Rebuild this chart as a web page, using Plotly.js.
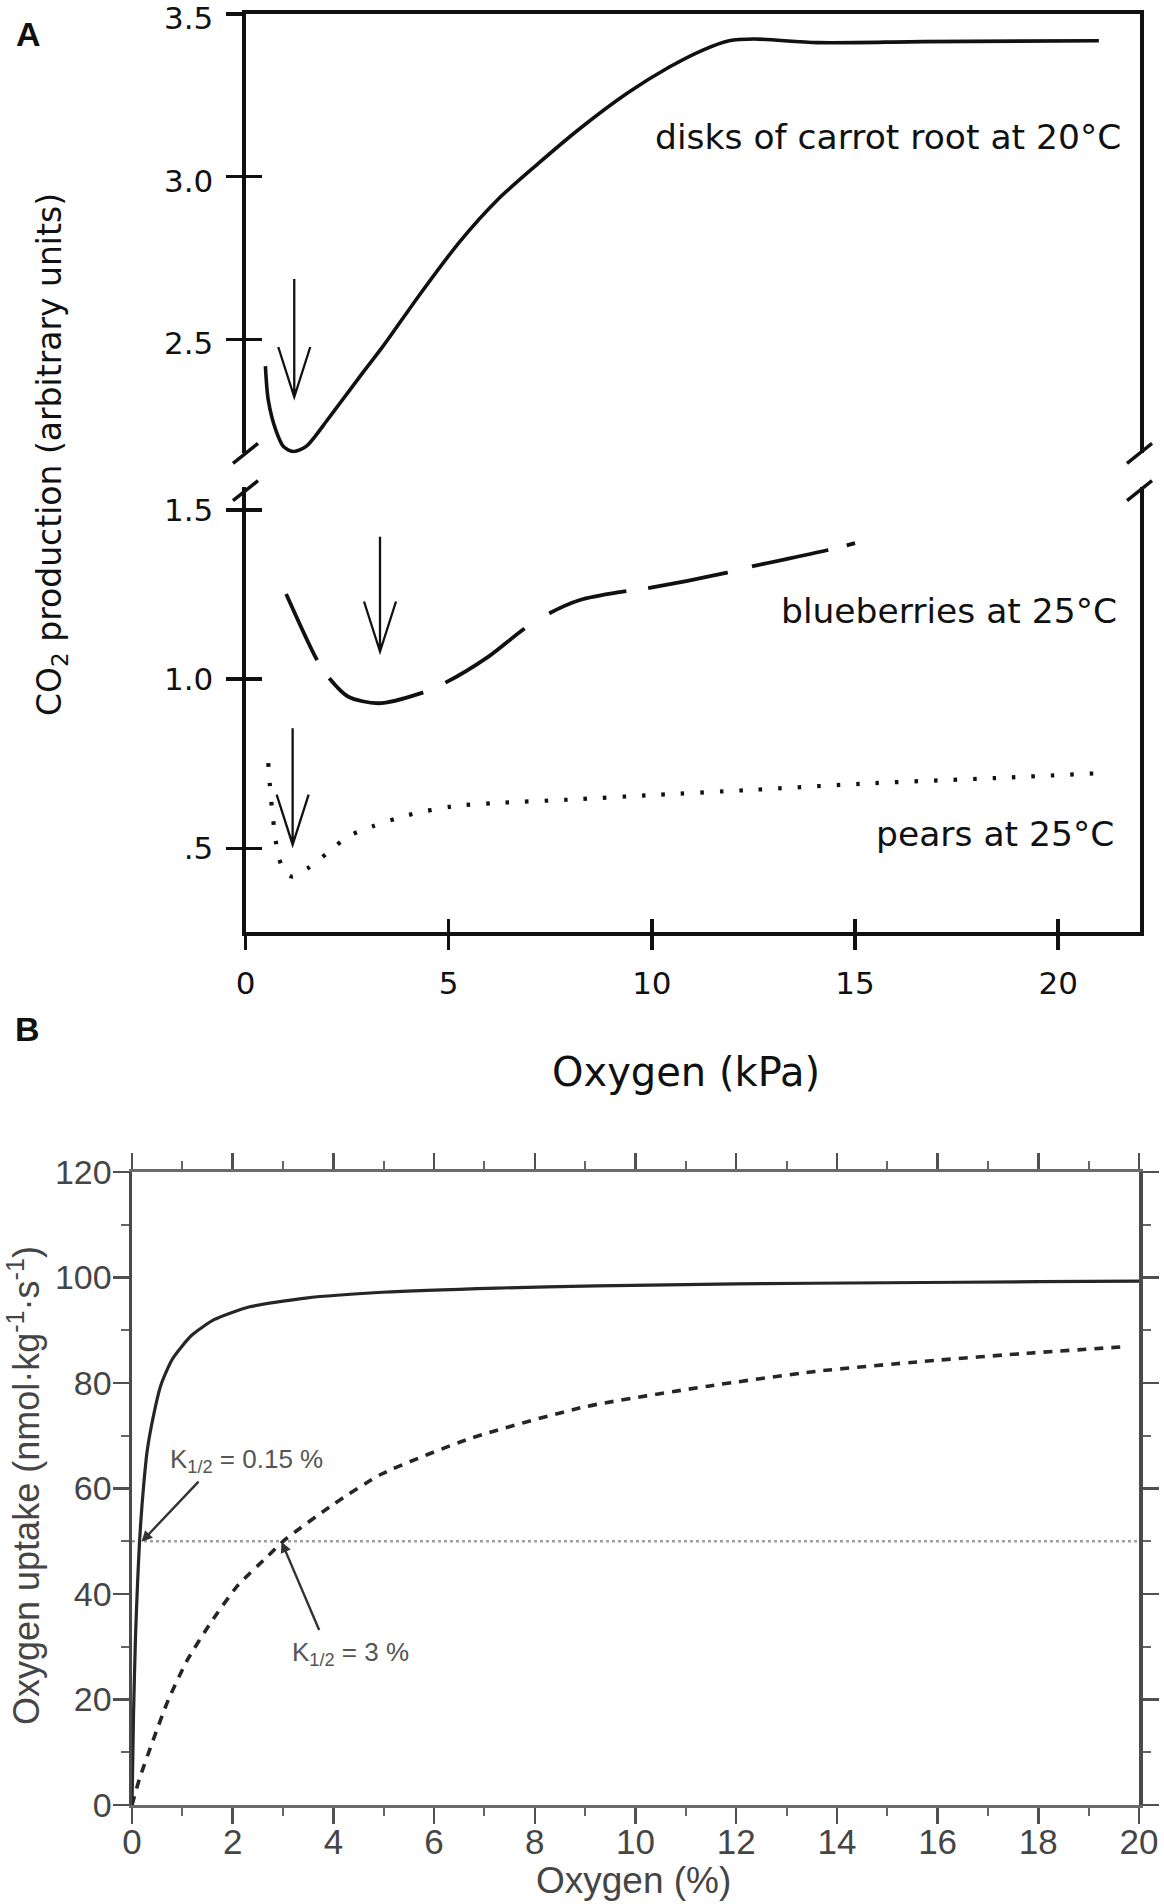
<!DOCTYPE html>
<html><head><meta charset="utf-8">
<script src="https://cdn.plot.ly/plotly-3.0.1.min.js"></script>
<style>html,body{margin:0;padding:0;background:#fff}#chart{width:1164px;height:1904px}</style>
</head><body><div id="chart"></div>
<script>
// ---------- Panel A data (Oxygen kPa vs CO2 production) ----------
const carrotX = [0.49, 0.56, 0.75, 0.94, 1.19, 1.5, 1.7, 2.0, 2.3, 2.9, 3.39, 4.33, 5.27, 6.21, 7.2, 8.2, 9.4, 10.43, 11.27, 11.9, 12.52, 14.08, 16.69, 21.0];
const carrotY = [2.418, 2.314, 2.22, 2.17, 2.155, 2.172, 2.2, 2.25, 2.3, 2.40, 2.48, 2.645, 2.8, 2.93, 3.04, 3.145, 3.257, 3.337, 3.39, 3.418, 3.423, 3.412, 3.415, 3.418];
const blueX = [1.0, 1.76, 2.06, 2.52, 3.27, 4.32, 4.92, 5.98, 6.88, 7.48, 8.23, 9.29, 9.89, 11.85, 12.45, 14.34, 15.0];
const blueY = [1.252, 1.057, 1.003, 0.949, 0.929, 0.959, 0.990, 1.067, 1.151, 1.195, 1.234, 1.259, 1.269, 1.315, 1.333, 1.382, 1.402];
const pearX = [0.56, 0.63, 0.78, 0.93, 1.13, 1.54, 2.06, 2.52, 3.12, 4.02, 5.08, 6.13, 7.94, 10.05, 12.45, 15.47, 18.48, 20.96];
const pearY = [0.752, 0.644, 0.496, 0.437, 0.417, 0.442, 0.491, 0.535, 0.565, 0.599, 0.624, 0.634, 0.644, 0.658, 0.673, 0.693, 0.708, 0.722];
const seriesLabelsA = ["disks of carrot root at 20°C", "blueberries at 25°C", "pears at 25°C"];
const labelXA = [21.6, 21.49, 21.41];
const labelYA = [3.122, 1.202, 0.543];
const xTicksA = [0, 5, 10, 15, 20];
const xTickTextA = ["0", "5", "10", "15", "20"];
const yTicksUpper = [2.5, 3.0, 3.5];
const yTickTextUpper = ["2.5", "3.0", "3.5"];
const yTicksLower = [0.5, 1.0, 1.5];
const yTickTextLower = [".5", "1.0", "1.5"];
// minimum arrows: x, top, tip, which segment
const arrowX = [1.2, 3.31, 1.16];
const arrowTop = [2.686, 1.421, 0.855];
const arrowTip = [2.323, 1.082, 0.511];
const arrowSeg = ["upper", "lower", "lower"];

// ---------- Panel B data (Oxygen % vs oxygen uptake) ----------
const solidX = [0, 0.03, 0.07, 0.11, 0.15, 0.2, 0.3, 0.42, 0.57, 0.8, 1.18, 1.63, 2.32, 3.45, 4.97, 7.25, 9.22, 12, 15, 18, 20];
const solidY = [0, 17, 32, 42, 50, 57, 67, 73.5, 79.5, 84.5, 89, 92, 94.4, 96.1, 97.2, 98.0, 98.4, 98.8, 99.0, 99.2, 99.3];
const dashX = [0, 0.15, 0.42, 0.72, 1.1, 1.56, 2.09, 2.7, 3.04, 4.0, 4.97, 6.72, 9.0, 11.44, 13.58, 15.72, 17.87, 19.76];
const dashY = [0, 5, 12.3, 19.9, 27.5, 34.5, 41.5, 47.2, 50.3, 57, 62.8, 69.5, 75.5, 79.4, 82.2, 84.1, 85.7, 86.9];
const halfX = [0, 20];
const halfY = [50, 50];
const kLabels = ["K<sub>1/2</sub> = 0.15 %", "K<sub>1/2</sub> = 3 %"];
const kTextX = [0.71, 3.14];
const kTextY = [65.4, 28.8];
const kTipX = [0.19, 2.97];
const kTipY = [49.9, 49.9];
const kTailX = [1.35, 3.73];
const kTailY = [61.6, 32.9];

// ---------- geometry (page pixels) ----------
const W = 1164, H = 1904;
const fx = v => v / W;
const fy = v => 1 - v / H;
const A_left = 245.5, A_right = 1139.5;
const A_upTop = 14, A_upBot = 453.3, A_lowTop = 486.7, A_lowBot = 932;
const A_xRange = [0, 22];
const A_upRange = [2.15, 3.5];
const A_lowRange = [0.253, 1.569];
const B_left = 132, B_right = 1139, B_top = 1172, B_bot = 1805;

const fontA = "DejaVu Sans, Liberation Sans, Arial, sans-serif";
const fontB = "Liberation Sans, Arial, sans-serif";
const black = "#111";
const grayText = "#454545";
// long-dash rhythm of the blueberry curve as drawn in the source figure
const blueDash = "73px,22px,104px,24px,96px,29px,81px,22px,81px,25px,78px,19px,12px,60px";

const traces = [
  {x: carrotX, y: carrotY, xaxis: "x2", yaxis: "y", mode: "lines", line: {color: black, width: 3.6, shape: "spline", smoothing: 0.8}, hoverinfo: "skip", showlegend: false},
  {x: blueX, y: blueY, xaxis: "x", yaxis: "y2", mode: "lines", line: {color: black, width: 3.8, shape: "spline", smoothing: 0.8, dash: blueDash}, hoverinfo: "skip", showlegend: false},
  {x: pearX, y: pearY, xaxis: "x", yaxis: "y2", mode: "lines", line: {color: black, width: 4.2, shape: "spline", smoothing: 0.8, dash: "3.5px,16px"}, hoverinfo: "skip", showlegend: false},
  // empty traces so the tick-overlay axes exist
  {x: [null], y: [null], xaxis: "x2", yaxis: "y3", mode: "lines", hoverinfo: "skip", showlegend: false},
  {x: [null], y: [null], xaxis: "x", yaxis: "y4", mode: "lines", hoverinfo: "skip", showlegend: false},
  {x: [null], y: [null], xaxis: "x4", yaxis: "y2", mode: "lines", hoverinfo: "skip", showlegend: false},
  // panel B
  {x: halfX, y: halfY, xaxis: "x5", yaxis: "y5", mode: "lines", line: {color: "#a0a0a0", width: 2.5, dash: "dot"}, hoverinfo: "skip", showlegend: false},
  {x: solidX, y: solidY, xaxis: "x5", yaxis: "y5", mode: "lines", line: {color: "#262626", width: 3.2, shape: "spline", smoothing: 0.6}, hoverinfo: "skip", showlegend: false},
  {x: dashX, y: dashY, xaxis: "x5", yaxis: "y5", mode: "lines", line: {color: "#262626", width: 3.6, shape: "spline", smoothing: 0.6, dash: "9px,8px"}, hoverinfo: "skip", showlegend: false}
];

const baseAx = {showgrid: false, zeroline: false, fixedrange: true, ticklabeloverflow: "allow"};
const tickFontA = {family: fontA, size: 31, color: black};

const layout = {
  width: W, height: H,
  margin: {l: 0, r: 0, t: 0, b: 0},
  paper_bgcolor: "#fff", plot_bgcolor: "rgba(0,0,0,0)",
  showlegend: false,
  // ---- Panel A ----
  xaxis: Object.assign({}, baseAx, {domain: [fx(A_left), fx(A_right)], range: A_xRange, anchor: "y2",
    showline: true, linecolor: black, linewidth: 4, ticks: "outside", ticklen: 14, tickwidth: 3.5, tickcolor: black,
    tickmode: "array", tickvals: xTicksA, ticktext: xTickTextA, tickfont: tickFontA, ticklabelstandoff: 7}),
  xaxis2: Object.assign({}, baseAx, {domain: [fx(A_left), fx(A_right)], range: A_xRange, anchor: "y", side: "top",
    showline: true, linecolor: black, linewidth: 4, ticks: "", showticklabels: false}),
  xaxis4: Object.assign({}, baseAx, {overlaying: "x", range: A_xRange, anchor: "y2", side: "bottom",
    showline: false, ticks: "inside", ticklen: 13, tickwidth: 3.5, tickcolor: black,
    tickmode: "array", tickvals: xTicksA, showticklabels: false}),
  yaxis: Object.assign({}, baseAx, {domain: [fy(A_upBot), fy(A_upTop)], range: A_upRange, anchor: "x2",
    showline: true, mirror: true, linecolor: black, linewidth: 4, ticks: "outside", ticklen: 16, tickwidth: 3.5, tickcolor: black,
    tickmode: "array", tickvals: yTicksUpper, ticktext: yTickTextUpper, tickfont: tickFontA, ticklabelstandoff: 6, ticklabelshift: 4}),
  yaxis3: Object.assign({}, baseAx, {overlaying: "y", range: A_upRange, anchor: "x2", side: "left",
    showline: false, ticks: "inside", ticklen: 16, tickwidth: 3.5, tickcolor: black,
    tickmode: "array", tickvals: yTicksUpper, showticklabels: false}),
  yaxis2: Object.assign({}, baseAx, {domain: [fy(A_lowBot), fy(A_lowTop)], range: A_lowRange, anchor: "x",
    showline: true, mirror: true, linecolor: black, linewidth: 4, ticks: "outside", ticklen: 16, tickwidth: 3.5, tickcolor: black,
    tickmode: "array", tickvals: yTicksLower, ticktext: yTickTextLower, tickfont: tickFontA, ticklabelstandoff: 6}),
  yaxis4: Object.assign({}, baseAx, {overlaying: "y2", range: A_lowRange, anchor: "x", side: "left",
    showline: false, ticks: "inside", ticklen: 16, tickwidth: 3.5, tickcolor: black,
    tickmode: "array", tickvals: yTicksLower, showticklabels: false}),
  // ---- Panel B ----
  xaxis5: Object.assign({}, baseAx, {domain: [fx(B_left), fx(B_right)], range: [0, 20], anchor: "y5",
    showline: true, linecolor: "#6a6a6a", linewidth: 3, mirror: "allticks",
    ticks: "outside", ticklen: 16, tickwidth: 2.5, tickcolor: "#505050", dtick: 2, tick0: 0,
    minor: {dtick: 1, ticks: "outside", ticklen: 8, tickwidth: 2, tickcolor: "#666"},
    tickfont: {family: fontB, size: 35, color: grayText}, ticklabelstandoff: -12}),
  yaxis5: Object.assign({}, baseAx, {domain: [fy(B_bot), fy(B_top)], range: [0, 120], anchor: "x5",
    showline: true, linecolor: "#4a4a4a", linewidth: 3.5, mirror: "allticks",
    ticks: "outside", ticklen: 16, tickwidth: 2.5, tickcolor: "#505050", dtick: 20, tick0: 0,
    minor: {dtick: 10, ticks: "outside", ticklen: 8, tickwidth: 2, tickcolor: "#666"},
    tickfont: {family: fontB, size: 34, color: grayText}, ticklabelstandoff: -6}),
  annotations: [],
  shapes: []
};

// Panel A series labels
const labelRefs = [["x2", "y"], ["x", "y2"], ["x", "y2"]];
seriesLabelsA.forEach((t, i) => {
  layout.annotations.push({text: t, x: labelXA[i], y: labelYA[i], xref: labelRefs[i][0], yref: labelRefs[i][1],
    xanchor: "right", yanchor: "middle", showarrow: false, font: {family: fontA, size: 34.5, color: black}});
});

// Panel A titles and panel letters
layout.annotations.push({text: "Oxygen (kPa)", x: fx(686), y: fy(1072), xref: "paper", yref: "paper",
  xanchor: "center", yanchor: "middle", showarrow: false, font: {family: fontA, size: 40, color: black}});
layout.annotations.push({text: "CO<sub>2</sub> production (arbitrary units)", x: fx(51), y: fy(455), xref: "paper", yref: "paper",
  xanchor: "center", yanchor: "middle", textangle: -90, showarrow: false, font: {family: fontA, size: 33, color: black}});
layout.annotations.push({text: "<b>A</b>", x: fx(28), y: fy(34), xref: "paper", yref: "paper",
  xanchor: "center", yanchor: "middle", showarrow: false, font: {family: fontB, size: 34, color: black}});
layout.annotations.push({text: "<b>B</b>", x: fx(27), y: fy(1029), xref: "paper", yref: "paper",
  xanchor: "center", yanchor: "middle", showarrow: false, font: {family: fontB, size: 34, color: black}});

// Panel B titles
layout.annotations.push({text: "Oxygen (%)", x: fx(633), y: fy(1880), xref: "paper", yref: "paper",
  xanchor: "center", yanchor: "middle", showarrow: false, font: {family: fontB, size: 37, color: grayText}});
layout.annotations.push({text: "Oxygen uptake (nmol·kg<sup>-1</sup>·s<sup>-1</sup>)", x: fx(24), y: fy(1486), xref: "paper", yref: "paper",
  xanchor: "center", yanchor: "middle", textangle: -90, showarrow: false, font: {family: fontB, size: 36, color: grayText}});

// Panel B K1/2 labels and arrows
kLabels.forEach((t, i) => {
  layout.annotations.push({text: t, x: kTextX[i], y: kTextY[i], xref: "x5", yref: "y5", xanchor: "left", yanchor: "middle",
    showarrow: false, font: {family: fontB, size: 26, color: "#555"}});
  layout.annotations.push({text: "", x: kTipX[i], y: kTipY[i], ax: kTailX[i], ay: kTailY[i], xref: "x5", yref: "y5",
    axref: "x5", ayref: "y5", showarrow: true, arrowhead: 2, arrowsize: 0.9, arrowwidth: 2.4, arrowcolor: "#333", standoff: 0});
});

// Panel A minimum arrows (open V heads) built from the arrow arrays
const xPxPerUnit = (A_right - A_left) / (A_xRange[1] - A_xRange[0]);
const upPxPerUnit = (A_upBot - A_upTop) / (A_upRange[1] - A_upRange[0]);
const lowPxPerUnit = (A_lowBot - A_lowTop) / (A_lowRange[1] - A_lowRange[0]);
const headLenPx = 50, headHalfPx = 16;
arrowX.forEach((x, i) => {
  const up = arrowSeg[i] === "upper";
  const ppu = up ? upPxPerUnit : lowPxPerUnit;
  const hl = headLenPx / ppu, hw = headHalfPx / xPxPerUnit;
  const tip = arrowTip[i], top = arrowTop[i];
  layout.shapes.push({type: "path", xref: up ? "x2" : "x", yref: up ? "y" : "y2",
    path: `M${x},${top} L${x},${tip} M${x - hw},${tip + hl} L${x},${tip} L${x + hw},${tip + hl}`,
    line: {color: black, width: 2.3}});
});

// axis break marks (//) at the gap between the two y segments
[A_left, A_right].forEach(xp => {
  [A_upBot, A_lowTop + 4].forEach(yp => {
    layout.shapes.push({type: "line", xref: "paper", yref: "paper",
      x0: fx(xp - 12.5), y0: fy(yp + 10), x1: fx(xp + 12.5), y1: fy(yp - 10),
      line: {color: black, width: 3.5}});
  });
});

Plotly.newPlot("chart", traces, layout, {staticPlot: true, displayModeBar: false});
</script>
</body></html>
